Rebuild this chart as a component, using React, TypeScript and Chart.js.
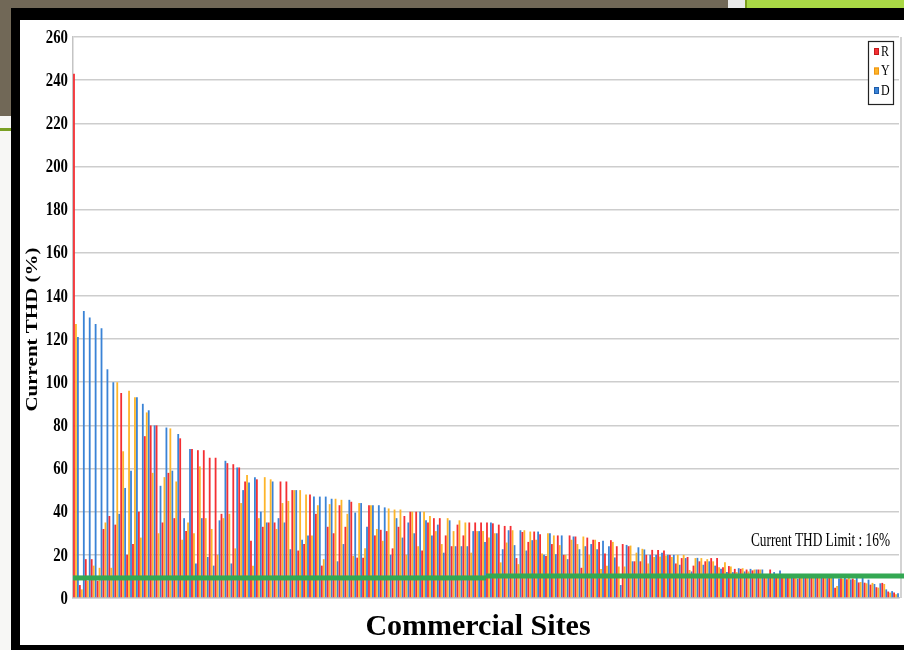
import { useEffect, useRef } from 'react';
import { Chart, registerables } from 'chart.js';

Chart.register(...registerables);

// ---------- data ----------
const R_VALUES = [
  243, 6, 18, 18, 8, 32, 38, 34, 95, 20,
  25, 40, 75, 80, 80, 35, 58, 37, 74, 31,
  69, 68.5, 68.5, 65, 65, 39, 62.5, 62, 60.5, 54,
  26.5, 55, 33, 35, 35, 54, 54, 50, 22, 25,
  48, 39, 15, 33, 30, 43, 33, 44.6, 18.7, 18.7,
  43, 29, 31.6, 31, 23, 33, 38, 40, 40, 22,
  35, 37, 37, 29, 24, 34, 29, 35, 35, 35,
  35, 34.6, 34, 33.4, 33.4, 18.5, 30.6, 26, 30.8, 29.5,
  19.5, 25, 29, 20, 29, 28.5, 14, 28, 27, 26,
  20.6, 26.8, 24, 25, 24, 17, 17, 20, 22.3, 22.3,
  22, 20, 16, 18.5, 19, 15, 17, 17, 18.5, 18.5,
  14.3, 14.8, 13.5, 13.5, 13.2, 12.8, 13.2, 11, 13.2, 11,
  10.5, 10.2, 11, 9.8, 10.4, 10.8, 9.5, 10.2, 9.6, 4.8,
  9.2, 8.7, 9, 7.2, 7.1, 6.2, 5, 7, 3, 2.6,
];

const Y_VALUES = [
  127, 4, 8, 15, 14, 35, 14, 100, 68, 96,
  93, 28, 86, 58, 30, 56, 78.6, 54, 27, 35,
  30, 61, 37, 32, 20, 37, 39, 23, 44, 57,
  15, 37, 56, 55, 32, 44, 45, 50, 50, 48,
  29, 43, 18, 43.5, 46, 45.5, 39, 19.5, 44, 23,
  43, 32, 26.5, 41.5, 41, 41, 20, 40, 24, 40,
  38, 31, 25, 37, 31, 36, 35, 21, 31, 31,
  28, 30, 16.5, 25.7, 31.4, 15.7, 31.4, 30.8, 27, 20.6,
  30, 29, 24.5, 20, 27, 25, 28.5, 20, 27, 13.4,
  15, 26, 14.6, 14.6, 24.3, 21, 22.8, 16, 19, 19.2,
  19.7, 19, 20, 20, 13, 18.5, 18.5, 18, 17, 14.3,
  16.6, 14.6, 12, 13.8, 12.3, 13.2, 13.2, 11, 11, 10,
  11, 9.5, 10.5, 10.6, 9.6, 10, 10.4, 9.8, 10.3, 5.6,
  8.8, 9.3, 8.4, 7.4, 6.8, 7, 4.8, 6.5, 2.5, 1.7,
];

const D_VALUES = [
  121, 133, 130, 127, 125, 106, 100, 39, 51, 59,
  93, 90, 87, 80, 52, 79, 59, 76, 37, 69,
  16, 37, 19, 15, 36, 63.6, 16, 60.5, 50, 53.5,
  56, 40, 35, 54, 37, 35, 22.6, 50, 27, 29,
  47, 47, 47, 46, 17, 25, 45.5, 39.6, 44, 33,
  43, 43, 42, 20, 37, 28, 35, 30, 40, 36,
  29, 34, 21, 36, 24, 24, 24, 31, 31, 26,
  35, 30, 22.6, 31.4, 24.5, 31.4, 22, 26.8, 30.8, 20,
  30, 20.3, 29, 18, 28.5, 22.6, 24, 25, 22.6, 26.5,
  24, 18.8, 6, 24.6, 17, 23.5, 22.5, 20, 20, 21,
  20, 20, 15.4, 18.5, 12.3, 18.6, 15.4, 17, 15, 13.5,
  12, 12, 13.8, 12.3, 13.5, 13.2, 13.2, 11, 12, 12.7,
  9.8, 10.8, 9, 10.2, 11, 9.4, 10.6, 9.2, 10, 9,
  9.5, 8.6, 10, 9.7, 8.5, 6.5, 6.8, 4, 3.2, 2.2,
];

const SITES = R_VALUES.map((_, i) => String(i + 1));

const SERIES_LABELS = ['R', 'Y', 'D'];
const SERIES_COLORS = ['#f42f33', '#fdb52a', '#3a83d6'];
const SERIES_EDGES = ['#c41b1b', '#ee9410', '#1d5cab'];

const Y_MIN = 0;
const Y_MAX = 260;
const Y_STEP = 20;

// threshold line drawn in the chart: [fromSite, toSite, value]
const LIMIT_SEGMENTS: [number, number, number][] = [
  [0, 69, 9.3],
  [70, 139, 10.2],
];
const LIMIT_LABEL = 'Current THD Limit : 16%';
const LIMIT_LABEL_VALUE = 26.5;

const X_TITLE = 'Commercial Sites';
const Y_TITLE = 'Current THD (%)';

const SERIF = '"Liberation Serif", "Times New Roman", serif';

const decorPlugin = {
  id: 'decor',
  afterDatasetsDraw(chart: any) {
    const { ctx, chartArea, scales } = chart;
    const x = scales.x;
    const y = scales.y;
    const n = SITES.length;
    const half = (chartArea.right - chartArea.left) / n / 2;
    ctx.save();
    // right frame line of the plot
    ctx.strokeStyle = '#c4c4c4';
    ctx.lineWidth = 1.5;
    ctx.beginPath();
    ctx.moveTo(chartArea.right + 2, chartArea.top);
    ctx.lineTo(chartArea.right + 2, chartArea.bottom);
    ctx.stroke();

    // limit line
    ctx.fillStyle = '#34a853';
    LIMIT_SEGMENTS.forEach(([from, to, v], i) => {
      const x0 = i === 0 ? chartArea.left : x.getPixelForValue(from) - half;
      const x1 = to >= n - 1 ? chart.width : x.getPixelForValue(to) + half;
      const yp = y.getPixelForValue(v);
      ctx.fillRect(x0, yp - 2.5, x1 - x0, 5);
    });
    ctx.restore();
  },
  afterDraw(chart: any) {
    const { ctx, chartArea, scales } = chart;
    const y = scales.y;
    ctx.save();
    ctx.fillStyle = '#000';

    // y tick labels (narrow bold serif)
    ctx.font = `bold 18px ${SERIF}`;
    ctx.textAlign = 'right';
    ctx.textBaseline = 'middle';
    y.ticks.forEach((t: any) => {
      const yp = y.getPixelForValue(t.value);
      ctx.save();
      ctx.translate(chartArea.left - 5, yp + 1);
      ctx.scale(0.82, 1);
      ctx.fillText(String(t.value), 0, 0);
      ctx.restore();
    });

    // y title
    ctx.save();
    ctx.font = `bold 21px ${SERIF}`;
    ctx.textAlign = 'center';
    ctx.textBaseline = 'middle';
    ctx.translate(13, (chartArea.top + chartArea.bottom) / 2 + 12);
    ctx.rotate(-Math.PI / 2);
    ctx.scale(1, 0.8);
    ctx.fillText(Y_TITLE, 0, 0);
    ctx.restore();

    // x title
    ctx.font = `bold 30px ${SERIF}`;
    ctx.textAlign = 'center';
    ctx.textBaseline = 'middle';
    ctx.fillText(X_TITLE, (chartArea.left + chartArea.right) / 2 - 8, chartArea.bottom + 29);

    // limit label
    ctx.save();
    ctx.font = `18px ${SERIF}`;
    ctx.textAlign = 'right';
    ctx.textBaseline = 'middle';
    ctx.translate(chartArea.right - 9, y.getPixelForValue(LIMIT_LABEL_VALUE));
    ctx.scale(0.74, 1);
    ctx.fillText(LIMIT_LABEL, 0, 0);
    ctx.restore();

    // legend box
    const bw = 25;
    const bh = 63;
    const bx = chartArea.right - 6 - bw;
    const by = chartArea.top + 4;
    ctx.fillStyle = '#fff';
    ctx.fillRect(bx, by, bw, bh);
    ctx.strokeStyle = '#222';
    ctx.lineWidth = 1.2;
    ctx.strokeRect(bx + 0.5, by + 0.5, bw, bh);
    SERIES_LABELS.forEach((lab, i) => {
      const cy = by + 11 + i * 19.5;
      ctx.fillStyle = SERIES_COLORS[i];
      ctx.fillRect(bx + 6, cy - 4, 5, 7);
      ctx.strokeStyle = SERIES_EDGES[i];
      ctx.lineWidth = 1;
      ctx.strokeRect(bx + 6.5, cy - 3.5, 4, 6);
      ctx.save();
      ctx.fillStyle = '#000';
      ctx.font = `15px ${SERIF}`;
      ctx.textAlign = 'left';
      ctx.textBaseline = 'middle';
      ctx.translate(bx + 13, cy);
      ctx.scale(0.8, 1);
      ctx.fillText(lab, 0, 0);
      ctx.restore();
    });
    ctx.restore();
  },
};

function THDChart() {
  const ref = useRef<HTMLCanvasElement | null>(null);
  useEffect(() => {
    if (!ref.current) return;
    const seriesValues = [R_VALUES, Y_VALUES, D_VALUES];
    const chart = new Chart(ref.current, {
      type: 'bar',
      data: {
        labels: SITES,
        datasets: SERIES_LABELS.map((label, i) => ({
          label,
          data: seriesValues[i],
          backgroundColor: SERIES_COLORS[i],
          borderWidth: 0,
          categoryPercentage: 1,
          barPercentage: 0.92,
        })),
      },
      options: {
        responsive: false,
        animation: false,
        devicePixelRatio: 1,
        layout: { padding: { left: 0, top: 17, right: 5, bottom: 0 } },
        plugins: {
          legend: { display: false },
          tooltip: { enabled: false },
        },
        scales: {
          x: {
            grid: { display: false },
            border: { display: true, color: '#c4c4c4', width: 1.5 },
            ticks: { display: false },
            afterFit: (scale: any) => {
              scale.height = 47;
            },
          },
          y: {
            min: Y_MIN,
            max: Y_MAX,
            ticks: { display: false, stepSize: Y_STEP },
            grid: { color: '#cdcdcd', lineWidth: 1.5, drawTicks: false },
            border: { display: true, color: '#c4c4c4', width: 1.5 },
            afterFit: (scale: any) => {
              scale.width = 53;
            },
          },
        },
      },
      plugins: [decorPlugin],
    } as any);
    return () => chart.destroy();
  }, []);
  return <canvas ref={ref} width={884} height={625} style={{ display: 'block' }} />;
}

export default function App() {
  const abs = (l: number, t: number, w: number, h: number, bg: string, extra: any = {}) => ({
    position: 'absolute' as const,
    left: l,
    top: t,
    width: w,
    height: h,
    background: bg,
    ...extra,
  });
  return (
    <div style={abs(0, 0, 904, 650, '#ffffff', { overflow: 'hidden' })}>
      <div style={abs(0, 0, 728, 8, '#716857')} />
      <div style={abs(0, 0, 11, 116, '#716857')} />
      <div style={abs(0, 116, 11, 534, '#f7f7f5')} />
      <div style={abs(0, 128, 11, 3, '#7aa023')} />
      <div style={abs(728, 0, 17, 8, '#e9e9e9')} />
      <div style={abs(745, 0, 159, 8, '#a9d845', { borderLeft: '2px solid #7b9b1e', boxSizing: 'border-box' })} />
      <div style={abs(11, 8, 893, 642, '#000000')} />
      <div style={abs(20, 20, 884, 625, '#ffffff')}>
        <THDChart />
      </div>
    </div>
  );
}
